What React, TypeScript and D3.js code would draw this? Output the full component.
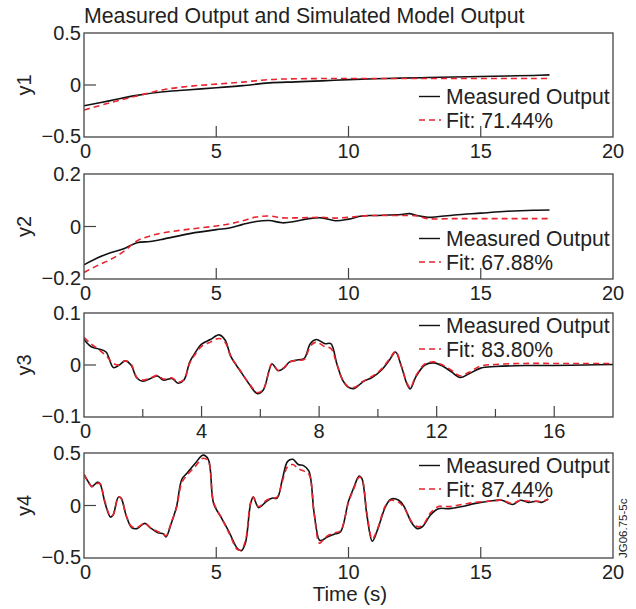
import React from "react";
import * as d3 from "d3";

// ---- data ----
const y1Time = [0, 1, 2, 3, 4, 5, 6, 7, 8, 9, 10, 11, 12, 13, 14, 15, 16, 17, 17.6];
const y1Measured = [-0.2, -0.15, -0.1, -0.065, -0.045, -0.027, -0.006, 0.02, 0.03, 0.04, 0.052, 0.06, 0.066, 0.072, 0.077, 0.082, 0.087, 0.092, 0.097];
const y1Fit = [-0.24, -0.17, -0.105, -0.045, -0.012, 0.008, 0.028, 0.052, 0.06, 0.062, 0.063, 0.063, 0.063, 0.063, 0.063, 0.062, 0.062, 0.062, 0.062];

const y2Time = [0, 0.5, 1, 1.5, 2, 2.5, 3, 4, 5, 5.5, 6, 6.5, 7, 7.5, 8, 8.5, 9, 9.5, 10, 10.5, 11, 12, 12.3, 12.6, 13, 14, 15, 16, 17, 17.6];
const y2Measured = [-0.146, -0.12, -0.1, -0.085, -0.062, -0.057, -0.048, -0.027, -0.012, -0.006, 0.008, 0.019, 0.023, 0.014, 0.02, 0.03, 0.033, 0.022, 0.028, 0.04, 0.042, 0.046, 0.049, 0.042, 0.035, 0.044, 0.051, 0.058, 0.062, 0.063];
const y2Fit = [-0.175, -0.149, -0.126, -0.095, -0.055, -0.036, -0.024, -0.01, 0.002, 0.01, 0.022, 0.036, 0.04, 0.033, 0.033, 0.034, 0.035, 0.032, 0.035, 0.04, 0.042, 0.042, 0.042, 0.04, 0.03, 0.03, 0.03, 0.03, 0.03, 0.03];

const y3Time = [0, 0.25, 0.5, 0.75, 1.0, 1.2, 1.4, 1.6, 1.8, 2.0, 2.3, 2.5, 2.7, 3.0, 3.2, 3.4, 3.6, 3.8, 4.0, 4.3, 4.6, 4.8, 5.0, 5.3, 5.6, 5.9, 6.1, 6.4, 6.6, 6.8, 7.0, 7.3, 7.5, 7.7, 7.9, 8.2, 8.4, 8.6, 8.8, 9.0, 9.2, 9.5, 9.8, 10.1, 10.4, 10.6, 10.8, 11.0, 11.1, 11.3, 11.6, 11.9, 12.2, 12.5, 12.8, 13.1, 13.5, 14, 15, 16, 17, 18];
const y3Measured = [0.049, 0.035, 0.031, 0.025, -0.005, 0.0, 0.008, 0.0, -0.025, -0.031, -0.025, -0.021, -0.029, -0.026, -0.035, -0.029, 0.006, 0.025, 0.04, 0.049, 0.058, 0.048, 0.016, -0.01, -0.035, -0.055, -0.048, 0.002, -0.011, -0.006, 0.006, 0.01, 0.013, 0.041, 0.049, 0.041, 0.041, 0.003, -0.029, -0.043, -0.045, -0.032, -0.024, -0.011, 0.01, 0.025, -0.003, -0.038, -0.046, -0.022, 0.0, 0.004, -0.002, -0.013, -0.024, -0.017, -0.006, -0.003, -0.001, -0.001, 0.0, 0.001];
const y3Fit = [0.053, 0.04, 0.03, 0.018, 0.003, 0.0, 0.008, 0.002, -0.024, -0.029, -0.024, -0.02, -0.027, -0.025, -0.033, -0.028, 0.004, 0.022, 0.036, 0.044, 0.051, 0.044, 0.016, -0.009, -0.034, -0.053, -0.047, 0.003, -0.01, -0.005, 0.006, 0.009, 0.011, 0.036, 0.044, 0.035, 0.032, 0.002, -0.028, -0.042, -0.043, -0.031, -0.022, -0.009, 0.012, 0.026, -0.002, -0.036, -0.044, -0.02, 0.002, 0.006, 0.0, -0.01, -0.021, -0.014, -0.002, 0.001, 0.003, 0.003, 0.003, 0.003];

const y4Time = [0, 0.2, 0.3, 0.5, 0.6, 0.8, 1.0, 1.1, 1.3, 1.4, 1.6, 1.8, 2.0, 2.3, 2.5, 2.8, 3.0, 3.1, 3.3, 3.5, 3.7, 3.9, 4.2, 4.5, 4.7, 4.9, 5.2, 5.5, 5.8, 5.95, 6.1, 6.3, 6.4, 6.6, 6.9, 7.1, 7.3, 7.5, 7.7, 7.9, 8.1, 8.3, 8.5, 8.7, 8.9, 9.0, 9.2, 9.5, 9.7, 10.0, 10.2, 10.4, 10.5, 10.7, 10.9, 11.1, 11.4, 11.6, 11.9, 12.1, 12.4, 12.6, 12.8, 13.1, 13.4, 13.8, 14.3, 14.8, 15.3, 15.8, 16.2, 16.5, 16.8, 17.1, 17.3, 17.55];
const y4Measured = [0.293, 0.21, 0.18, 0.22, 0.21, 0.02, -0.11, -0.09, 0.08, 0.07, -0.1, -0.21, -0.22, -0.17, -0.21, -0.26, -0.27, -0.3, -0.17, -0.01, 0.25, 0.31, 0.4, 0.48, 0.44, 0.02, -0.12, -0.26, -0.41, -0.43, -0.36, 0.02, 0.08, -0.02, 0.04, 0.07, 0.07, 0.25, 0.42, 0.44, 0.39, 0.38, 0.33, -0.07, -0.33, -0.33, -0.3, -0.27, -0.25, 0.04, 0.17, 0.28, 0.26, -0.1, -0.34, -0.23, -0.01, 0.06, 0.05, -0.01, -0.17, -0.22, -0.2, -0.09, -0.03, -0.03, -0.01, 0.02, 0.04, 0.05, 0.01, 0.05, 0.03, 0.04, 0.03, 0.06];
const y4Fit = [0.3, 0.21, 0.18, 0.21, 0.21, 0.03, -0.1, -0.09, 0.08, 0.07, -0.1, -0.2, -0.21, -0.17, -0.21, -0.25, -0.27, -0.29, -0.16, -0.02, 0.22, 0.29, 0.37, 0.45, 0.42, 0.03, -0.12, -0.27, -0.42, -0.42, -0.34, 0.03, 0.08, -0.01, 0.05, 0.07, 0.08, 0.23, 0.37, 0.39, 0.35, 0.33, 0.3, -0.08, -0.36, -0.34, -0.29, -0.26, -0.24, 0.03, 0.16, 0.27, 0.26, -0.08, -0.32, -0.22, 0.0, 0.05, 0.03, -0.02, -0.16, -0.2, -0.19, -0.07, -0.01, -0.01, 0.01, 0.03, 0.04, 0.05, 0.02, 0.05, 0.04, 0.04, 0.04, 0.06];

const fitLabels = ["Fit: 71.44%", "Fit: 67.88%", "Fit: 83.80%", "Fit: 87.44%"];
const yNames = ["y1", "y2", "y3", "y4"];

const W = 636;
const H = 609;
const left = 84;
const right = 613;
const font = "'Liberation Sans', Arial, Helvetica, sans-serif";

type Panel = {
  name: string;
  top: number;
  bottom: number;
  yMax: number;
  xMax: number;
  majors: number[];
  minors: number[];
  t: number[];
  meas: number[];
  fit: number[];
  fitLabel: string;
  legendTop: boolean;
};

const panels: Panel[] = [
  { name: yNames[0], top: 33, bottom: 137, yMax: 0.5, xMax: 20, majors: [0, 5, 10, 15, 20], minors: [], t: y1Time, meas: y1Measured, fit: y1Fit, fitLabel: fitLabels[0], legendTop: false },
  { name: yNames[1], top: 174, bottom: 279, yMax: 0.2, xMax: 20, majors: [0, 5, 10, 15, 20], minors: [], t: y2Time, meas: y2Measured, fit: y2Fit, fitLabel: fitLabels[1], legendTop: false },
  { name: yNames[2], top: 313, bottom: 417, yMax: 0.1, xMax: 18, majors: [0, 4, 8, 12, 16], minors: [2, 6, 10, 14], t: y3Time, meas: y3Measured, fit: y3Fit, fitLabel: fitLabels[2], legendTop: true },
  { name: yNames[3], top: 453, bottom: 558, yMax: 0.5, xMax: 20, majors: [0, 5, 10, 15, 20], minors: [], t: y4Time, meas: y4Measured, fit: y4Fit, fitLabel: fitLabels[3], legendTop: true },
];

const fmt = (v: number) => (v === 0 ? "0" : v < 0 ? "\u2212" + Math.abs(v) : String(v));

const PanelView = ({ p }: { p: Panel }) => {
  const x = d3.scaleLinear().domain([0, p.xMax]).range([left, right]);
  const y = d3.scaleLinear().domain([-p.yMax, p.yMax]).range([p.bottom, p.top]);
  const line = d3
    .line<number>()
    .x((_, i) => x(p.t[i]))
    .y((d) => y(d))
    .curve(d3.curveCatmullRom.alpha(0.5));
  const b1 = p.legendTop ? p.top + 20 : p.bottom - 33;
  const b2 = b1 + 23.5;
  return (
    <g>
      <defs>
        <clipPath id={"clip-" + p.name}>
          <rect x={left} y={p.top} width={right - left} height={p.bottom - p.top} />
        </clipPath>
      </defs>
      <g clipPath={`url(#clip-${p.name})`}>
        <path d={line(p.meas) || ""} fill="none" stroke="#111" strokeWidth={1.6} />
        <path d={line(p.fit) || ""} fill="none" stroke="#e8232d" strokeWidth={1.6} strokeDasharray="6,4" />
      </g>
      <rect x={left} y={p.top} width={right - left} height={p.bottom - p.top} fill="none" stroke="#444" strokeWidth={1.3} />
      {/* inward x ticks */}
      {p.majors.filter((v) => v > 0 && v < p.xMax).map((v) => (
        <line key={"M" + v} x1={x(v)} x2={x(v)} y1={p.bottom} y2={p.bottom - 11} stroke="#444" strokeWidth={1.2} />
      ))}
      {p.minors.map((v) => (
        <line key={"m" + v} x1={x(v)} x2={x(v)} y1={p.bottom} y2={p.bottom - 8} stroke="#444" strokeWidth={1.2} />
      ))}
      <line x1={left} x2={left + 12} y1={y(0)} y2={y(0)} stroke="#444" strokeWidth={1.2} />
      {p.majors.map((v) => (
        <text key={"xl" + v} x={x(v) + (v === 0 ? 1.5 : 0)} y={p.bottom + 21} textAnchor="middle" fontSize={20} fill="#222">
          {v}
        </text>
      ))}
      {[p.yMax, 0, -p.yMax].map((v) => (
        <text key={"yl" + v} x={81} y={y(v)} dy={v < 0 ? "0.3em" : "0.36em"} textAnchor="end" fontSize={20} fill="#222">
          {fmt(v)}
        </text>
      ))}
      <text transform={`translate(31,${(p.top + p.bottom) / 2}) rotate(-90)`} textAnchor="middle" fontSize={20} fill="#222">
        {p.name}
      </text>
      <line x1={419} x2={440} y1={b1 - 7.5} y2={b1 - 7.5} stroke="#111" strokeWidth={1.4} />
      <line x1={419} x2={441} y1={b2 - 7.5} y2={b2 - 7.5} stroke="#e8232d" strokeWidth={1.4} strokeDasharray="6,4" />
      <text x={446} y={b1} fontSize={21.2} fill="#222">Measured Output</text>
      <text x={446} y={b2} fontSize={21.2} fill="#222">{p.fitLabel}</text>
    </g>
  );
};

export default function App() {
  return (
    <svg
      width={W}
      height={H}
      style={{ position: "absolute", left: 0, top: 0, background: "#fff", fontFamily: font }}
    >
      <rect width={W} height={H} fill="#fff" />
      <text x={84} y={23} fontSize={21.3} fill="#222">
        Measured Output and Simulated Model Output
      </text>
      {panels.map((p) => (
        <PanelView key={p.name} p={p} />
      ))}
      <text x={350} y={601} textAnchor="middle" fontSize={20.5} fill="#222">
        Time (s)
      </text>
      <text transform="translate(627,558) rotate(-90)" fontSize={11.5} fill="#222">
        JG06.75-5c
      </text>
    </svg>
  );
}
